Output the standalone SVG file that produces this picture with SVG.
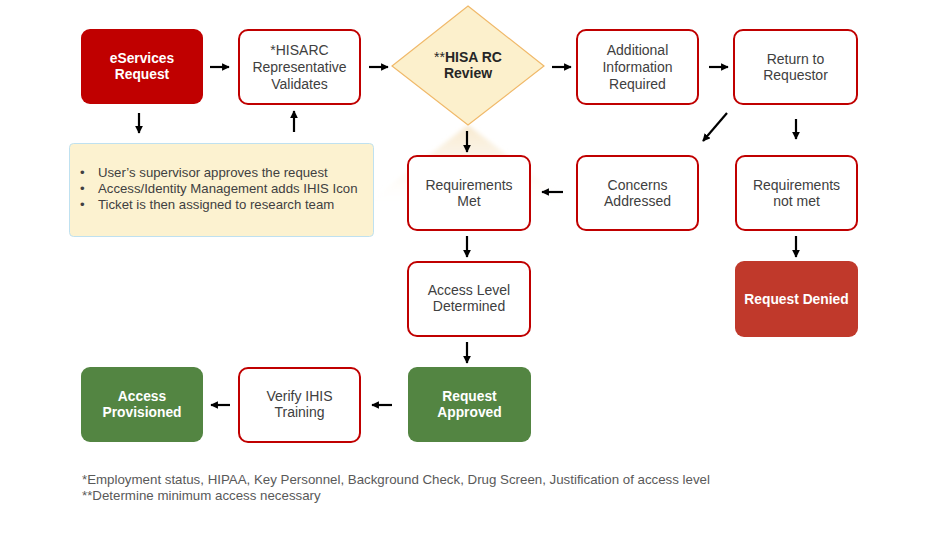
<svg xmlns="http://www.w3.org/2000/svg" width="938" height="548" viewBox="0 0 938 548">
  <defs>
    <marker id="ah" viewBox="0 0 10 10" refX="9" refY="5" markerWidth="3.5" markerHeight="3.5" orient="auto" markerUnits="strokeWidth">
      <path d="M0,0 L10,5 L0,10 z" fill="#000"/>
    </marker>
    <linearGradient id="shade" x1="0" y1="0" x2="0" y2="1">
      <stop offset="0" stop-color="#f6e6c8" stop-opacity="0.9"/>
      <stop offset="1" stop-color="#fbf3e6" stop-opacity="0"/>
    </linearGradient>
    <filter id="soft" x="-20%" y="-20%" width="140%" height="140%">
      <feGaussianBlur stdDeviation="2"/>
    </filter>
  </defs>
  <style>
    .box { fill: #fff; stroke: #c00000; stroke-width: 2; }
    .red { fill: #c00000; }
    .denied { fill: #c0392b; }
    .green { fill: #538542; }
    .t { font-family: "Liberation Sans", Arial, sans-serif; font-size: 14px; fill: #404040; text-anchor: middle; }
    .tb { font-family: "Liberation Sans", Arial, sans-serif; font-size: 13.8px; font-weight: bold; fill: #fff; text-anchor: middle; }
    .note { font-family: "Liberation Sans", Arial, sans-serif; font-size: 13.2px; fill: #404040; }
    .foot { font-family: "Liberation Sans", Arial, sans-serif; font-size: 13.3px; fill: #595959; }
    .arr { stroke: #000; stroke-width: 2.2; fill: none; marker-end: url(#ah); }
  </style>
  <rect width="938" height="548" fill="#fff"/>

  <!-- faint shadow cast below the review diamond -->
  <path d="M468,125 L565,200 L371,200 Z" fill="url(#shade)" filter="url(#soft)"/>

  <g id="eservices-request">
    <rect class="red" x="81" y="29" width="122" height="75" rx="9"/>
    <text class="tb" x="142" y="63">eServices</text>
    <text class="tb" x="142" y="79">Request</text>
  </g>

  <g id="hisarc-validates">
    <rect class="box" x="239" y="30" width="121" height="74" rx="9"/>
    <text class="t" x="299.5" y="55">*HISARC</text>
    <text class="t" x="299.5" y="72">Representative</text>
    <text class="t" x="299.5" y="89">Validates</text>
  </g>

  <g id="hisarc-review">
    <path d="M468,6 L544,66 L468,125 L392,66 Z" fill="#fcf0cc" stroke="#f0b96a" stroke-width="1.2"/>
    <text x="468" y="62" text-anchor="middle" font-family="'Liberation Sans', Arial, sans-serif" font-size="14px" fill="#262626"><tspan>**</tspan><tspan font-weight="bold">HISA RC</tspan></text>
    <text x="468" y="78" text-anchor="middle" font-family="'Liberation Sans', Arial, sans-serif" font-size="14px" font-weight="bold" fill="#262626">Review</text>
  </g>

  <g id="additional-info">
    <rect class="box" x="577" y="30" width="121" height="74" rx="9"/>
    <text class="t" x="637.5" y="55">Additional</text>
    <text class="t" x="637.5" y="72">Information</text>
    <text class="t" x="637.5" y="89">Required</text>
  </g>

  <g id="return-to-requestor">
    <rect class="box" x="734" y="30" width="123" height="74" rx="9"/>
    <text class="t" x="795.5" y="64">Return to</text>
    <text class="t" x="795.5" y="80">Requestor</text>
  </g>

  <g id="supervisor-note">
    <rect x="69.5" y="143.5" width="304" height="93" rx="4" fill="#fcf2d0" stroke="#bfe1f0" stroke-width="1"/>
    <text class="note" x="80" y="177">•</text>
    <text class="note" x="98" y="177">User’s supervisor approves the request</text>
    <text class="note" x="80" y="193">•</text>
    <text class="note" x="98" y="193">Access/Identity Management adds IHIS Icon</text>
    <text class="note" x="80" y="209">•</text>
    <text class="note" x="98" y="209">Ticket is then assigned to research team</text>
  </g>

  <g id="requirements-met">
    <rect class="box" x="408" y="156" width="122" height="74" rx="9"/>
    <text class="t" x="469" y="190">Requirements</text>
    <text class="t" x="469" y="206">Met</text>
  </g>

  <g id="concerns-addressed">
    <rect class="box" x="577" y="156" width="121" height="74" rx="9"/>
    <text class="t" x="637.5" y="190">Concerns</text>
    <text class="t" x="637.5" y="206">Addressed</text>
  </g>

  <g id="requirements-not-met">
    <rect class="box" x="736" y="156" width="121" height="74" rx="9"/>
    <text class="t" x="796.5" y="190">Requirements</text>
    <text class="t" x="796.5" y="206">not met</text>
  </g>

  <g id="access-level">
    <rect class="box" x="408" y="262" width="122" height="74" rx="9"/>
    <text class="t" x="469" y="295">Access Level</text>
    <text class="t" x="469" y="311">Determined</text>
  </g>

  <g id="request-denied">
    <rect class="denied" x="735" y="261" width="123" height="76" rx="9"/>
    <text class="tb" x="796.5" y="304">Request Denied</text>
  </g>

  <g id="access-provisioned">
    <rect class="green" x="81" y="367" width="122" height="75" rx="9"/>
    <text class="tb" x="142" y="401">Access</text>
    <text class="tb" x="142" y="417">Provisioned</text>
  </g>

  <g id="verify-training">
    <rect class="box" x="239" y="368" width="121" height="74" rx="9"/>
    <text class="t" x="299.5" y="401">Verify IHIS</text>
    <text class="t" x="299.5" y="417">Training</text>
  </g>

  <g id="request-approved">
    <rect class="green" x="408" y="367" width="123" height="75" rx="9"/>
    <text class="tb" x="469.5" y="401">Request</text>
    <text class="tb" x="469.5" y="417">Approved</text>
  </g>

  <g id="connectors">
    <line class="arr" x1="210" y1="67" x2="229" y2="67"/>
    <line class="arr" x1="369" y1="67" x2="388" y2="67"/>
    <line class="arr" x1="552" y1="67" x2="571" y2="67"/>
    <line class="arr" x1="709" y1="67" x2="728" y2="67"/>
    <line class="arr" x1="139" y1="113" x2="139" y2="133"/>
    <line class="arr" x1="294" y1="132" x2="294" y2="111"/>
    <line class="arr" x1="727" y1="113" x2="703" y2="141"/>
    <line class="arr" x1="796" y1="119" x2="796" y2="139"/>
    <line class="arr" x1="467" y1="131" x2="467" y2="152"/>
    <line class="arr" x1="563" y1="192" x2="542" y2="192"/>
    <line class="arr" x1="467" y1="236" x2="467" y2="257"/>
    <line class="arr" x1="796" y1="236" x2="796" y2="257"/>
    <line class="arr" x1="467" y1="342" x2="467" y2="363"/>
    <line class="arr" x1="392" y1="405" x2="372" y2="405"/>
    <line class="arr" x1="230" y1="405" x2="211" y2="405"/>
  </g>

  <g id="footnotes">
    <text class="foot" x="82" y="484">*Employment status, HIPAA, Key Personnel, Background Check, Drug Screen, Justification of access level</text>
    <text class="foot" x="82" y="500">**Determine minimum access necessary</text>
  </g>
</svg>
